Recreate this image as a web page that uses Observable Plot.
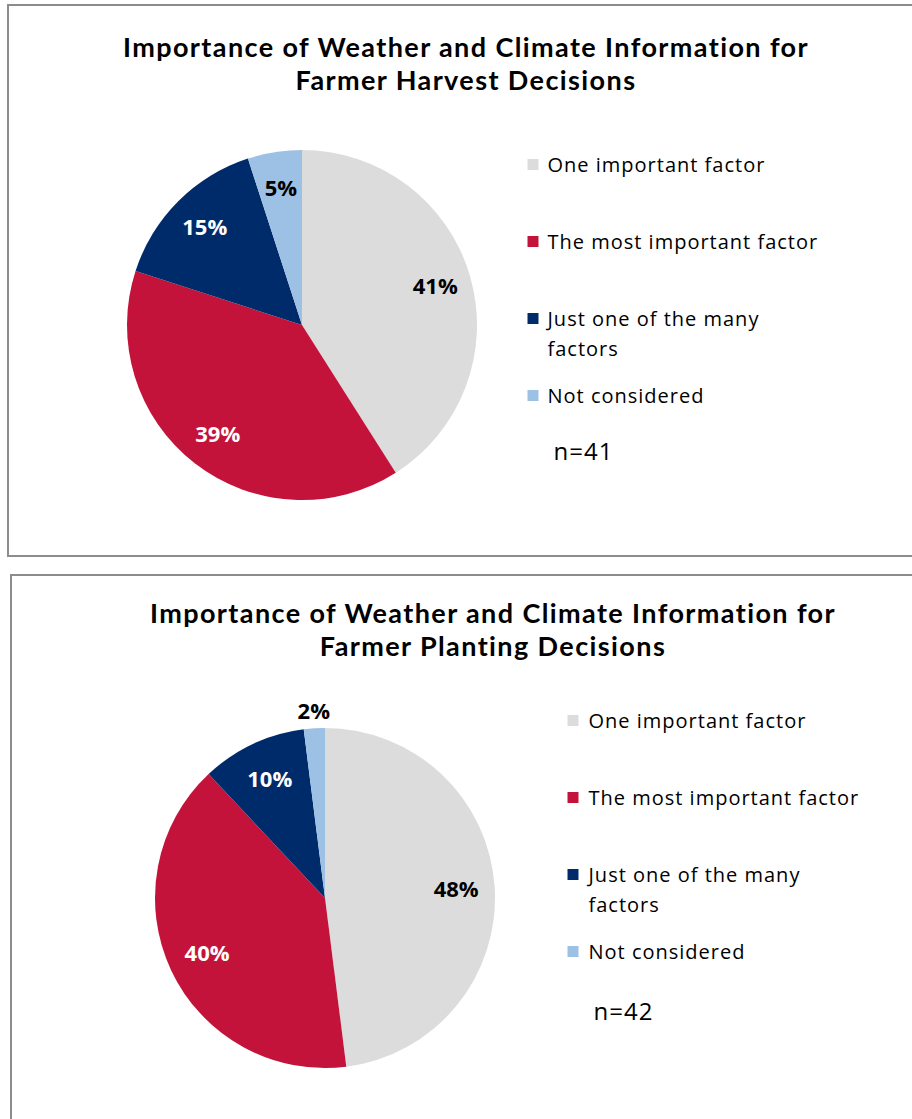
<!DOCTYPE html>
<html><head><meta charset="utf-8">
<script src="https://cdn.jsdelivr.net/npm/d3@7"></script>
<script src="https://cdn.jsdelivr.net/npm/@observablehq/plot@0.6"></script>
<style>
html,body{margin:0;padding:0;background:#fff;overflow:hidden;}
#page{width:912px;height:1119px;overflow:hidden;position:relative;font-family:"Open Sans",sans-serif;}
.panel{position:absolute;border-style:solid;border-color:#8c8c8c;border-width:2px 0 2px 2px;box-sizing:border-box;background:#fff;}
.title{position:absolute;font-family:Lato,sans-serif;font-weight:700;font-size:27px;letter-spacing:1.4px;line-height:33px;text-align:center;color:#000;white-space:nowrap;transform:translateX(-50%);}
.abs{position:absolute;}
.abs svg{overflow:visible;max-width:none !important;}
</style></head><body>
<div id="page"></div>
<script>
// ---- data ----
const categories = ["One important factor", "The most important factor", "Just one of the many factors", "Not considered"];
const colors = ["#DCDCDC", "#C4133A", "#002B6B", "#9DC0E5"];
const harvestValues = [41, 39, 15, 5];
const plantingValues = [48, 40, 10, 2];
const harvestN = "n=41";
const plantingN = "n=42";
const harvestTitle = ["Importance of Weather and Climate Information for", "Farmer Harvest Decisions"];
const plantingTitle = ["Importance of Weather and Climate Information for", "Farmer Planting Decisions"];
const darkLabelCategories = ["One important factor", "Not considered"];

const page = document.getElementById("page");
const legendText = d => d === "Just one of the many factors" ? "Just one of the many\nfactors" : d;

function addPanel(cfg) {
  const panel = document.createElement("div");
  panel.className = "panel";
  Object.assign(panel.style, {left: cfg.panel[0] + "px", top: cfg.panel[1] + "px", width: (912 - cfg.panel[0] + 20) + "px", height: cfg.panel[2] + "px"});
  page.appendChild(panel);

  const title = document.createElement("div");
  title.className = "title";
  title.innerHTML = cfg.title.join("<br>");
  Object.assign(title.style, {left: cfg.titlePos[0] + "px", top: cfg.titlePos[1] + "px"});
  page.appendChild(title);

  const data = categories.map((c, i) => ({category: c, value: cfg.values[i]}));
  const arcs = d3.pie().sort(null).value(d => d.value)(data);
  const labels = arcs.map(a => {
    const m = (a.startAngle + a.endAngle) / 2;
    const k = a.data.value < 3 ? 1.1 : cfg.labelRadius;
    return {x: k * Math.sin(m), y: k * Math.cos(m), text: a.data.value + "%", category: a.data.category};
  });

  const pieMark = (index, scales) => {
    const cx = scales.x(0), cy = scales.y(0), r = Math.abs(scales.x(1) - scales.x(0));
    const color = scales.color || d3.scaleOrdinal(categories, colors);
    const arc = d3.arc().innerRadius(0).outerRadius(r);
    const g = d3.create("svg:g").attr("transform", `translate(${cx},${cy})`);
    g.selectAll("path").data(arcs).join("path")
      .attr("d", arc)
      .attr("fill", d => color(d.data.category));
    return g.node();
  };

  const size = 400, m = cfg.pieMargin;
  const pie = Plot.plot({
    width: size, height: size,
    marginTop: m, marginBottom: m, marginLeft: m, marginRight: m,
    x: {domain: [-1, 1], axis: null},
    y: {domain: [-1, 1], axis: null},
    color: {domain: categories, range: colors},
    style: {background: "transparent", fontFamily: "'Open Sans', sans-serif"},
    marks: [
      pieMark,
      Plot.text(labels.filter(d => darkLabelCategories.includes(d.category)), {x: "x", y: "y", text: "text", fill: "#000", fontSize: 22, fontWeight: "bold"}),
      Plot.text(labels.filter(d => !darkLabelCategories.includes(d.category)), {x: "x", y: "y", text: "text", fill: "#fff", fontSize: 22, fontWeight: "bold"})
    ]
  });
  const pieWrap = document.createElement("div");
  pieWrap.className = "abs";
  Object.assign(pieWrap.style, {left: (cfg.center[0] - size / 2) + "px", top: (cfg.center[1] - size / 2) + "px", width: size + "px", height: size + "px"});
  pieWrap.appendChild(pie);
  page.appendChild(pieWrap);

  const lw = 380, lh = 330;
  const legend = Plot.plot({
    width: lw, height: lh,
    marginTop: 24, marginBottom: 75, marginLeft: 0, marginRight: 0,
    y: {type: "point", domain: categories, axis: null, padding: 0},
    color: {domain: categories, range: colors},
    style: {background: "transparent", fontFamily: "'Open Sans', sans-serif", letterSpacing: "1px", color: "#000"},
    marks: [
      Plot.dot(categories, {y: d => d, fill: d => d, symbol: "square", r: 6.2, frameAnchor: "left", dx: 12.5}),
      Plot.text(categories, {y: d => d, text: legendText, frameAnchor: "left", dx: cfg.legendTextDx, textAnchor: "start", lineAnchor: "top", dy: -14, lineHeight: 1.5, fontSize: 20, fill: "#000"}),
      Plot.text([cfg.n], {text: d => d, frameAnchor: "bottom-left", dx: 33, dy: cfg.nDy, textAnchor: "start", lineAnchor: "middle", fontSize: 24, fill: "#000"})
    ]
  });
  const legWrap = document.createElement("div");
  legWrap.className = "abs";
  Object.assign(legWrap.style, {left: cfg.legendPos[0] + "px", top: cfg.legendPos[1] + "px", width: lw + "px", height: lh + "px"});
  legWrap.appendChild(legend);
  page.appendChild(legWrap);
}

addPanel({
  panel: [7, 4, 553], title: harvestTitle, titlePos: [466, 30],
  values: harvestValues, center: [302, 325], pieMargin: 25, labelRadius: 0.79,
  legendPos: [520, 140], legendTextDx: 27, n: harvestN, nDy: 57
});
addPanel({
  panel: [10, 574, 600], title: plantingTitle, titlePos: [493, 596],
  values: plantingValues, center: [325, 898], pieMargin: 30, labelRadius: 0.77,
  legendPos: [560, 696], legendTextDx: 28, n: plantingN, nDy: 61
});
</script>
</body></html>
